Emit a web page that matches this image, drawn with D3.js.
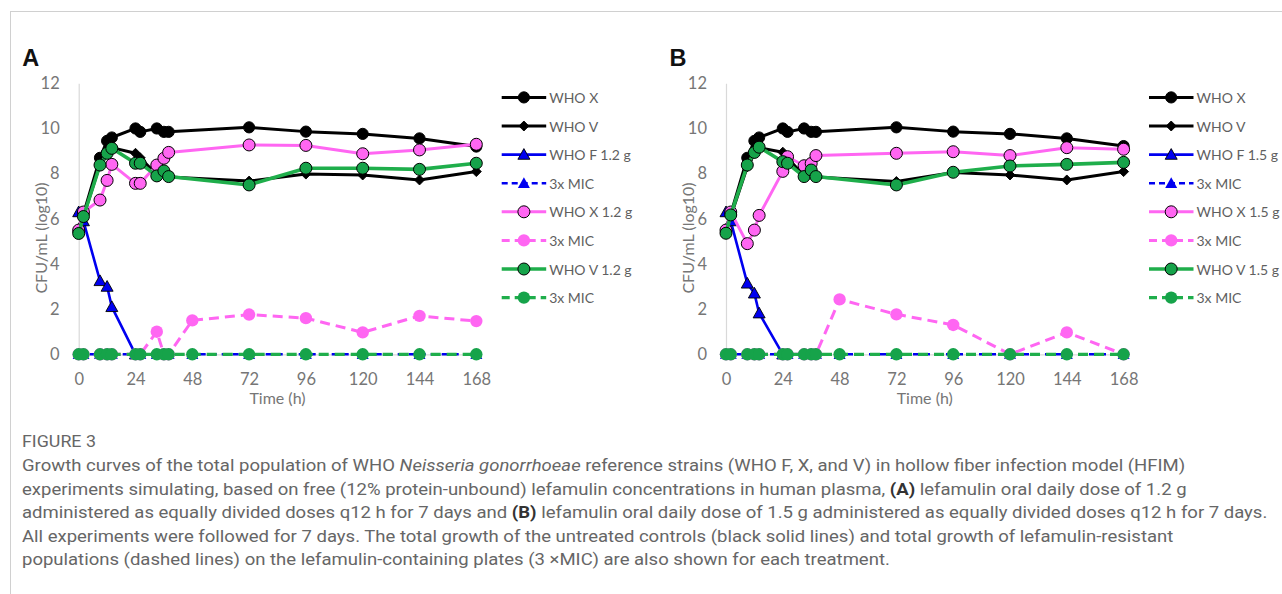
<!DOCTYPE html>
<html><head><meta charset="utf-8">
<script src="https://cdn.jsdelivr.net/npm/d3@7"></script>
<style>
html,body{margin:0;padding:0;background:#fff;}
svg{display:block;}
</style></head>
<body>
<svg id="chart" width="1282" height="594"></svg>
<script>
// ---------- DATA ----------
const times = [0, 2, 9, 12, 14, 24, 26, 33, 36, 38, 48, 72, 96, 120, 144, 168];
const xTicks = [0, 24, 48, 72, 96, 120, 144, 168];
const yTicks = [0, 2, 4, 6, 8, 10, 12];

// Panel A (1.2 g)
const whoX_A   = [5.4, 6.2, 8.7, 9.45, 9.6, 10.0, 9.85, 10.0, 9.85, 9.85, null, 10.05, 9.86, 9.76, 9.56, 9.2];
const whoV_A   = [5.5, 6.1, 8.4, 9.0, 9.15, 8.9, 8.7, 7.95, 8.0, 7.85, null, 7.67, 7.98, 7.94, 7.72, 8.09];
const whoF_A   = [6.3, 5.9, 3.25, 3.0, 2.1, 0, null, null, null, null, null, null, null, null, null, null];
const micF_A   = [0, 0, 0, 0, 0, 0, 0, 0, 0, 0, 0, 0, 0, 0, 0, 0];
const whoXt_A  = [5.5, 6.3, 6.83, 7.7, 8.41, 7.57, 7.57, 8.38, 8.68, 8.94, null, 9.27, 9.25, 8.88, 9.05, 9.3];
const micX_A   = [0, 0, 0, 0, 0, 0, 0, 1.0, 0, 0, 1.5, 1.76, 1.6, 0.97, 1.7, 1.47];
const whoVt_A  = [5.35, 6.1, 8.38, 8.9, 9.12, 8.46, 8.46, 7.9, 8.12, 7.87, null, 7.5, 8.24, 8.24, 8.19, 8.46];
const micV_A   = [0, 0, 0, 0, 0, 0, 0, 0, 0, 0, 0, 0, 0, 0, 0, 0];

// Panel B (1.5 g)
const whoX_B   = [5.4, 6.2, 8.7, 9.45, 9.6, 10.0, 9.85, 10.0, 9.85, 9.85, null, 10.05, 9.86, 9.76, 9.56, 9.22];
const whoV_B   = [5.5, 6.1, 8.3, 8.9, 9.15, 8.95, 8.7, 7.9, 8.0, 7.85, null, 7.65, 8.05, 7.94, 7.72, 8.09];
const whoF_B   = [6.3, 5.9, 3.14, 2.7, 1.82, 0, null, null, null, null, null, null, null, null, null, null];
const micF_B   = [0, 0, 0, 0, 0, 0, 0, 0, 0, 0, 0, 0, 0, 0, 0, 0];
const whoXt_B  = [5.5, 6.3, 4.9, 5.5, 6.15, 8.1, 8.75, 8.35, 8.45, 8.8, null, 8.9, 8.97, 8.8, 9.15, 9.08];
const micX_B   = [0, 0, 0, 0, 0, 0, 0, 0, 0, 0, 2.43, 1.77, 1.3, 0, 0.97, 0];
const whoVt_B  = [5.36, 6.17, 8.38, 8.94, 9.17, 8.53, 8.46, 7.87, 8.16, 7.87, null, 7.5, 8.06, 8.34, 8.41, 8.5];
const micV_B   = [0, 0, 0, 0, 0, 0, 0, 0, 0, 0, 0, 0, 0, 0, 0, 0];

const labelsA = ["WHO X", "WHO V", "WHO F 1.2 g", "3x MIC", "WHO X 1.2 g", "3x MIC", "WHO V 1.2 g", "3x MIC"];
const labelsB = ["WHO X", "WHO V", "WHO F 1.5 g", "3x MIC", "WHO X 1.5 g", "3x MIC", "WHO V 1.5 g", "3x MIC"];

// ---------- STYLE ----------
const BLACK = "#000000", BLUE = "#0000f0", PINK = "#ff66f2", GREEN = "#16a34a", GREENL = "#1fae4b";
const styles = [
  {color: BLACK, width: 3,   dash: null,   shape: "circle",  r: 5.6, fill: BLACK, stroke: BLACK},
  {color: BLACK, width: 3,   dash: null,   shape: "diamond", r: 5,   fill: BLACK, stroke: BLACK},
  {color: BLUE,  width: 2.6, dash: null,   shape: "tri",     r: 6,   fill: BLUE,  stroke: BLACK},
  {color: BLUE,  width: 2.6, dash: "6,5",  shape: "tri",     r: 6,   fill: BLUE,  stroke: "none"},
  {color: PINK,  width: 3,   dash: null,   shape: "circle",  r: 6,   fill: PINK,  stroke: BLACK},
  {color: PINK,  width: 3,   dash: "10,6", shape: "circle",  r: 6.2, fill: PINK,  stroke: "none"},
  {color: GREENL,width: 3.6, dash: null,   shape: "circle",  r: 6,   fill: GREEN, stroke: BLACK},
  {color: GREENL,width: 3.2, dash: "10,6", shape: "circle",  r: 6.2, fill: GREEN, stroke: "none"}
];

const svg = d3.select("#chart");
const FONT = "Lato, 'Open Sans', sans-serif";
const GRAY = "#5f5f5f";
const TICKGRAY = "#767676";

// frame
svg.append("line").attr("x1", 10).attr("x2", 1282).attr("y1", 11.5).attr("y2", 11.5).attr("stroke", "#d0d0d0").attr("stroke-width", 1);
svg.append("line").attr("x1", 10.5).attr("x2", 10.5).attr("y1", 11).attr("y2", 594).attr("stroke", "#d0d0d0").attr("stroke-width", 1);

function markerPath(shape, r) {
  if (shape === "diamond") return `M0,${-r} L${r},0 L0,${r} L${-r},0Z`;
  if (shape === "tri") return `M0,${-r} L${r * 1.0},${r * 0.78} L${-r * 1.0},${r * 0.78}Z`;
  return null;
}
function drawMarker(g, st, x, y) {
  if (st.shape === "circle") {
    g.append("circle").attr("cx", x).attr("cy", y).attr("r", st.r)
      .attr("fill", st.fill).attr("stroke", st.stroke).attr("stroke-width", st.stroke === "none" ? 0 : 1);
  } else {
    g.append("path").attr("d", markerPath(st.shape, st.r)).attr("transform", `translate(${x},${y})`)
      .attr("fill", st.fill).attr("stroke", st.stroke).attr("stroke-width", st.stroke === "none" ? 0 : 0.9);
  }
}

function panel(letter, x0, series, labels) {
  const x = d3.scaleLinear().domain([0, 168]).range([x0, x0 + 397.6]);
  const y = d3.scaleLinear().domain([0, 12]).range([354.3, 83.3]);
  const g = svg.append("g");

  // panel letter
  g.append("text").attr("x", x0 - 56.5).attr("y", 65.5).text(letter)
    .attr("font-family", "'Liberation Sans', Arial, sans-serif").attr("font-weight", "bold")
    .attr("font-size", 23.5).attr("fill", "#111");

  // y axis
  const yAxis = d3.axisLeft(y).tickValues(yTicks).tickSize(0).tickPadding(19).tickFormat(d3.format("d"));
  const ya = g.append("g").attr("transform", `translate(${x0},0)`).call(yAxis);
  ya.select(".domain").attr("stroke", "#d9d9d9").attr("stroke-width", 1.2);
  ya.selectAll("text").attr("font-family", FONT).attr("font-size", 16.5).attr("fill", TICKGRAY);

  // x axis
  const xAxis = d3.axisBottom(x).tickValues(xTicks).tickSize(0).tickPadding(19).tickFormat(d3.format("d"));
  const xa = g.append("g").attr("transform", `translate(0,${y(0)})`).call(xAxis);
  xa.select(".domain").attr("stroke", "#d9d9d9").attr("stroke-width", 1.2);
  xa.selectAll("text").attr("font-family", FONT).attr("font-size", 16.5).attr("fill", TICKGRAY);

  // axis titles
  g.append("text").attr("x", (x(0) + x(168)) / 2).attr("y", 404).attr("text-anchor", "middle")
    .attr("font-family", FONT).attr("font-size", 16).attr("fill", TICKGRAY).text("Time (h)");
  g.append("text").attr("transform", `translate(${x0 - 38.5},238) rotate(-90)`).attr("text-anchor", "middle")
    .attr("dominant-baseline", "central")
    .attr("font-family", FONT).attr("font-size", 16).attr("fill", TICKGRAY).text("CFU/mL (log10)");

  // series
  const line = d3.line().x(d => x(d.t)).y(d => y(d.v));
  series.forEach((vals, i) => {
    const st = styles[i];
    const pts = times.map((t, k) => ({t, v: vals[k]})).filter(d => d.v !== null);
    const sg = g.append("g");
    const p = sg.append("path").attr("d", line(pts)).attr("fill", "none")
      .attr("stroke", st.color).attr("stroke-width", st.width).attr("stroke-linejoin", "round");
    if (st.dash) p.attr("stroke-dasharray", st.dash);
    pts.forEach(d => drawMarker(sg, st, x(d.t), y(d.v)));
  });

  // legend
  const lx = x0 + 423, ly0 = 97.4, dy = 28.6;
  labels.forEach((lab, i) => {
    const st = styles[i];
    const yy = ly0 + i * dy;
    const lg = g.append("g");
    const l = lg.append("line").attr("x1", lx).attr("x2", lx + 44.5).attr("y1", yy).attr("y2", yy)
      .attr("stroke", st.color).attr("stroke-width", st.width);
    if (st.dash) l.attr("stroke-dasharray", i === 3 ? "6,4" : "8,5").attr("stroke-dashoffset", 0);
    drawMarker(lg, st, lx + 22.2, yy);
    lg.append("text").attr("x", lx + 47.5).attr("y", yy).attr("dominant-baseline", "central")
      .attr("font-family", FONT).attr("font-size", 14).attr("fill", GRAY).text(lab);
  });
}

panel("A", 78.7, [whoX_A, whoV_A, whoF_A, micF_A, whoXt_A, micX_A, whoVt_A, micV_A], labelsA);
panel("B", 726, [whoX_B, whoV_B, whoF_B, micF_B, whoXt_B, micX_B, whoVt_B, micV_B], labelsB);

// ---------- CAPTION ----------
const CAPFONT = "Roboto, 'Open Sans', sans-serif";
const CAPGRAY = "#666666";

const fig = svg.append("text").attr("font-family", CAPFONT).attr("font-size", 17)
  .attr("fill", CAPGRAY).text("FIGURE 3");
{
  const w = fig.node().getComputedTextLength();
  fig.attr("transform", `translate(22,447) scale(${((96 - 22) / w).toFixed(4)},1)`);
}

const captionLines = [
  {y: 471, parts: [["Growth curves of the total population of WHO ", ""], ["Neisseria gonorrhoeae", "i"], [" reference strains (WHO F, X, and V) in hollow fiber infection model (HFIM)", ""]]},
  {y: 494.5, parts: [["experiments simulating, based on free (12% protein-unbound) lefamulin concentrations in human plasma, ", ""], ["(A)", "b"], [" lefamulin oral daily dose of 1.2 g", ""]]},
  {y: 518, parts: [["administered as equally divided doses q12 h for 7 days and ", ""], ["(B)", "b"], [" lefamulin oral daily dose of 1.5 g administered as equally divided doses q12 h for 7 days.", ""]]},
  {y: 541.5, parts: [["All experiments were followed for 7 days. The total growth of the untreated controls (black solid lines) and total growth of lefamulin-resistant", ""]]},
  {y: 565, parts: [["populations (dashed lines) on the lefamulin-containing plates (3 \u00d7MIC) are also shown for each treatment.", ""]]}
];
const capNodes = captionLines.map(cl => {
  const t = svg.append("text").attr("font-family", CAPFONT)
    .attr("font-size", 17).attr("fill", CAPGRAY);
  cl.parts.forEach(([s, f]) => {
    const ts = t.append("tspan").text(s);
    if (f === "i") ts.attr("font-style", "italic");
    if (f === "b") ts.attr("font-weight", "bold").attr("fill", "#333");
  });
  return t;
});
// single uniform horizontal scale: longest line (3rd) spans 22 -> 1268
const sx = (1268 - 22) / capNodes[2].node().getComputedTextLength();
capNodes.forEach((t, i) => t.attr("transform", `translate(22,${captionLines[i].y}) scale(${sx.toFixed(4)},1)`));
</script>
</body></html>
